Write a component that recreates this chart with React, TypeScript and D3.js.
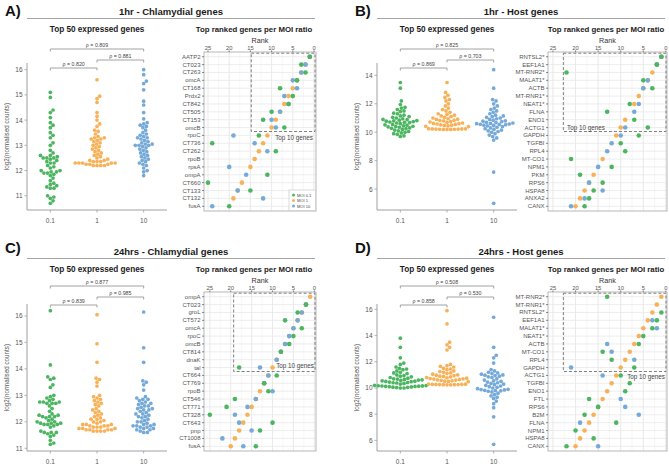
import React from 'react';
import * as d3 from 'd3';

const COLORS = ['#4bb560', '#f7b259', '#74a9d8'];
const MOI = ['0.1', '1', '10'];
const LEGEND_LABELS = ['MOI 0.1', 'MOI 1', 'MOI 10'];

// ---------- Panel A: 1hr Chlamydial ----------
const aExpr01 = [15.1, 14.9, 14.4, 14.3, 14.1, 13.9, 13.8, 13.7, 13.5, 13.4, 13.3, 13.1, 13.0, 12.8, 12.7, 12.6, 12.6, 12.55, 12.5, 12.5, 12.45, 12.4, 12.35, 12.3, 12.3, 12.2, 12.15, 12.1, 12.0, 12.0, 11.95, 11.95, 11.9, 11.9, 11.85, 11.8, 11.7, 11.6, 11.5, 11.45, 11.4, 11.35, 11.3, 11.3, 11.0, 10.95, 10.9, 10.8, 10.7, 12.5];
const aExpr1 = [15.6, 14.95, 14.85, 14.7, 14.3, 14.15, 14.0, 13.85, 13.75, 13.6, 13.55, 13.45, 13.35, 13.3, 13.3, 13.25, 13.25, 13.2, 13.15, 13.1, 13.05, 13.0, 12.95, 12.9, 12.85, 12.8, 12.75, 12.7, 12.65, 12.6, 12.55, 12.5, 12.45, 12.4, 12.4, 12.35, 12.35, 12.3, 12.3, 12.3, 12.3, 12.25, 12.25, 12.25, 12.2, 12.2, 12.2, 12.2, 12.35, 12.3];
const aExpr10 = [16.0, 15.8, 15.55, 15.45, 15.2, 14.75, 14.6, 14.3, 14.05, 13.9, 13.85, 13.8, 13.75, 13.7, 13.6, 13.5, 13.45, 13.4, 13.35, 13.3, 13.3, 13.25, 13.2, 13.15, 13.1, 13.05, 13.05, 13.0, 13.0, 12.95, 12.9, 12.85, 12.8, 12.75, 12.7, 12.65, 12.6, 12.55, 12.5, 12.45, 12.4, 12.35, 12.3, 12.25, 12.2, 12.1, 12.0, 11.95, 11.8, 13.0];
const aRho = ['ρ = 0.809', 'ρ = 0.881', 'ρ = 0.820'];
const aGenes = ['AATP2', 'CT023', 'CT263', 'omcA', 'CT168', 'Prdx2', 'CT842', 'CT505', 'CT153', 'omcB', 'rpoC', 'CT736', 'CT262', 'rpoB', 'rpsA', 'ompA', 'CT660', 'CT133', 'CT132', 'fusA'];
const aRank01 = [1, 3, 2, 4, 8, 5, 6, 10, 12, 7, 13, 24, 9, null, null, 11, 25, 15, null, 20];
const aRank1 = [1, 2, 3, 4, 5, 6, 7, 8, 9, 10, 11, 12, 13, 14, 15, null, 17, 18, 19, null];
const aRank10 = [1, 2, 3, 5, 4, 7, 6, 8, 10, 9, 19, 14, 11, null, 20, 16, null, 18, 12, 24];

// ---------- Panel B: 1hr Host ----------
const bExpr01 = [13.5, 13.1, 12.2, 11.95, 11.75, 11.7, 11.6, 11.5, 11.45, 11.35, 11.3, 11.2, 11.15, 11.1, 11.05, 11.0, 10.95, 10.9, 10.88, 10.85, 10.82, 10.8, 10.78, 10.75, 10.72, 10.7, 10.68, 10.65, 10.6, 10.55, 10.52, 10.5, 10.45, 10.42, 10.4, 10.38, 10.35, 10.3, 10.28, 10.25, 10.2, 10.15, 10.1, 10.05, 10.0, 9.95, 9.9, 9.85, 9.75, 9.7];
const bExpr1 = [13.5, 12.8, 12.6, 12.45, 12.3, 12.2, 12.0, 11.85, 11.7, 11.6, 11.5, 11.4, 11.3, 11.25, 11.2, 11.15, 11.1, 11.05, 11.0, 10.95, 10.92, 10.9, 10.85, 10.82, 10.8, 10.75, 10.72, 10.7, 10.65, 10.62, 10.6, 10.58, 10.55, 10.52, 10.5, 10.48, 10.45, 10.42, 10.4, 10.25, 10.24, 10.23, 10.23, 10.22, 10.22, 10.21, 10.21, 10.2, 10.2, 10.2];
const bExpr10 = [14.4, 13.1, 12.3, 12.2, 12.0, 11.85, 11.7, 11.6, 11.5, 11.4, 11.3, 11.2, 11.15, 11.1, 11.05, 11.0, 10.95, 10.9, 10.85, 10.8, 10.78, 10.75, 10.7, 10.68, 10.65, 10.62, 10.6, 10.58, 10.56, 10.55, 10.53, 10.5, 10.48, 10.45, 10.4, 10.35, 10.3, 10.25, 10.2, 10.1, 10.05, 10.0, 9.9, 9.8, 9.7, 9.6, 9.45, 10.15, 7.2, 5.0];
const bRho = ['ρ = 0.825', 'ρ = 0.703', 'ρ = 0.869'];
const bGenes = ['RNTSL2*', 'EEF1A1', 'MT-RNR2*', 'MALAT1*', 'ACTB', 'MT-RNR1*', 'NEAT1*', 'FLNA', 'ENO1', 'ACTG1', 'GAPDH', 'TGFBI', 'RPL4', 'MT-CO1', 'NPM1', 'PKM', 'RPS6', 'HSPA8', 'ANXA2', 'CANX'];
const bRank01 = [1, 2, 22, 5, 3, null, 8, 13, 7, 4, 6, 10, 9, 21, 12, 19, 14, 16, 17, 18];
const bRank1 = [1, 2, 3, 4, 5, 6, 7, null, 9, 10, 11, null, null, 14, null, 16, 17, 18, 19, 20];
const bRank10 = [1, 2, null, 4, 5, null, 6, 7, null, 9, 10, 12, 13, null, 15, null, 17, 14, 18, 21];

// ---------- Panel C: 24hrs Chlamydial ----------
const cExpr01 = [16.2, 14.15, 13.7, 13.65, 13.6, 13.4, 13.3, 13.0, 12.95, 12.9, 12.85, 12.8, 12.75, 12.75, 12.75, 12.7, 12.7, 12.7, 12.6, 12.5, 12.4, 12.3, 12.25, 12.25, 12.2, 12.2, 12.2, 12.15, 12.1, 12.05, 12.0, 12.0, 11.95, 11.95, 11.95, 11.9, 11.9, 11.9, 11.85, 11.8, 11.65, 11.6, 11.6, 11.6, 11.55, 11.5, 11.45, 11.3, 11.2, 11.15];
const cExpr1 = [16.05, 14.95, 14.25, 13.65, 13.6, 13.5, 13.35, 13.0, 12.95, 12.9, 12.85, 12.8, 12.75, 12.7, 12.65, 12.6, 12.5, 12.45, 12.4, 12.35, 12.3, 12.25, 12.2, 12.15, 12.1, 12.1, 12.05, 12.0, 12.0, 11.95, 11.9, 11.9, 11.9, 11.85, 11.85, 11.85, 11.8, 11.8, 11.8, 11.75, 11.75, 11.75, 11.7, 11.7, 11.7, 11.7, 11.65, 11.65, 11.65, 11.65];
const cExpr10 = [16.15, 14.8, 14.25, 13.55, 13.5, 13.4, 13.2, 12.95, 12.9, 12.85, 12.85, 12.8, 12.75, 12.7, 12.7, 12.65, 12.6, 12.6, 12.55, 12.5, 12.5, 12.45, 12.45, 12.4, 12.35, 12.3, 12.3, 12.25, 12.2, 12.2, 12.15, 12.1, 12.05, 12.0, 12.0, 11.95, 11.9, 11.9, 11.85, 11.85, 11.85, 11.8, 11.8, 11.75, 11.75, 11.7, 11.7, 11.65, 11.6, 11.6];
const cRho = ['ρ = 0.877', 'ρ = 0.985', 'ρ = 0.839'];
const cGenes = ['ompA', 'CT023', 'groL', 'CT572', 'omcA', 'rpoC', 'omcB', 'CT814', 'dnaK', 'tal', 'CT664', 'CT769', 'rpoB', 'CT546', 'CT771', 'CT328', 'CT643', 'pnp', 'CT1008', 'fusA'];
const cRank01 = [null, 2, 4, 7, 3, 5, 6, 8, null, 18, 9, 12, 11, 19, 21, 25, 10, 13, null, 14];
const cRank1 = [1, 2, 3, 4, 5, 6, 7, 8, 9, 10, 11, 12, 13, 14, 15, 16, 17, 18, 19, 20];
const cRank10 = [null, 2, 3, 4, 5, 6, 7, 8, 9, 13, 11, 12, 10, 14, 16, 19, 18, 15, 22, 17];

// ---------- Panel D: 24hrs Host ----------
const dExpr01 = [13.8, 13.1, 12.3, 11.9, 11.8, 11.6, 11.5, 11.45, 11.4, 11.3, 11.2, 11.15, 11.1, 11.0, 10.95, 10.9, 10.85, 10.8, 10.75, 10.7, 10.68, 10.65, 10.62, 10.6, 10.58, 10.55, 10.52, 10.5, 10.48, 10.45, 10.42, 10.4, 10.38, 10.35, 10.3, 10.2, 10.18, 10.17, 10.16, 10.15, 10.14, 10.13, 10.12, 10.1, 10.08, 10.06, 10.05, 10.03, 10.0, 10.0];
const dExpr1 = [15.9, 14.9, 13.5, 13.3, 13.1, 12.9, 11.8, 11.7, 11.65, 11.6, 11.5, 11.45, 11.4, 11.3, 11.25, 11.2, 11.15, 11.1, 11.05, 11.0, 10.98, 10.95, 10.9, 10.88, 10.85, 10.8, 10.78, 10.75, 10.72, 10.7, 10.68, 10.65, 10.62, 10.6, 10.58, 10.55, 10.52, 10.5, 10.48, 10.3, 10.29, 10.28, 10.28, 10.27, 10.26, 10.26, 10.25, 10.25, 10.24, 10.24];
const dExpr10 = [15.4, 13.1, 12.5, 12.3, 11.9, 11.4, 11.3, 11.2, 11.15, 11.1, 11.05, 11.0, 10.98, 10.95, 10.9, 10.85, 10.8, 10.7, 10.6, 10.55, 10.5, 10.45, 10.4, 10.3, 10.25, 10.2, 10.15, 10.1, 10.05, 10.0, 9.95, 9.9, 9.88, 9.85, 9.82, 9.8, 9.78, 9.75, 9.7, 9.6, 9.5, 9.4, 9.3, 9.2, 9.0, 8.8, 8.5, 7.8, 5.7, 10.35];
const dRho = ['ρ = 0.508', 'ρ = 0.530', 'ρ = 0.858'];
const dGenes = ['MT-RNR2*', 'MT-RNR1*', 'RNTSL2*', 'EEF1A1', 'MALAT1*', 'NEAT1*', 'ACTB', 'MT-CO1', 'RPL4', 'GAPDH', 'ACTG1', 'TGFBI', 'ENO1', 'FTL', 'RPS6', 'B2M', 'FLNA', 'NPM1', 'HSPA8', 'CANX'];
const dRank01 = [13, null, 1, 2, 3, 5, 6, 14, 12, 7, 10, 8, 9, 17, 15, 18, 11, 20, 16, 22];
const dRank1 = [1, 2, 3, 4, 5, 6, 7, 8, 9, 10, 11, 12, 13, 14, 15, 16, 17, 18, 19, 20];
const dRank10 = [null, null, null, 3, 2, null, 13, 12, 7, 21, 14, null, null, 10, 9, 6, 19, null, null, 15];

const yTicksA = [11, 12, 13, 14, 15, 16];
const yTicksB = [6, 8, 10, 12, 14];
const yTicksC = [11, 12, 13, 14, 15, 16];
const yTicksD = [6, 8, 10, 12, 14, 16];
const rankTicks = [25, 20, 15, 10, 5, 0];
const rankMinor = [22.5, 17.5, 12.5, 7.5, 2.5];

const FONT = 'Liberation Sans, Arial, Helvetica, sans-serif';

function swarm(values: number[], y: (v: number) => number, cx: number, d: number) {
  const pts = values.map((v) => ({ y: y(v), x: cx })).sort((p, q) => q.y - p.y);
  const placed: { x: number; y: number }[] = [];
  for (const p of pts) {
    const cands = [0];
    for (const q of placed) {
      const dy = Math.abs(q.y - p.y);
      if (dy < d) {
        const dx = Math.sqrt(d * d - dy * dy);
        cands.push(q.x - cx + dx, q.x - cx - dx);
      }
    }
    cands.sort((a, b) => Math.abs(a) - Math.abs(b));
    let best = 0;
    for (const c of cands) {
      const ok = placed.every((q) => (q.x - (cx + c)) ** 2 + (q.y - p.y) ** 2 >= d * d - 0.01);
      if (ok) { best = c; break; }
    }
    placed.push({ x: cx + best, y: p.y });
  }
  return placed;
}

type PanelProps = {
  ox: number; oy: number; letter: string; title: string;
  expr: number[][]; rho: string[]; yTicks: number[];
  genes: string[]; ranks: (number | null)[][];
  rankLeft: number; rankRight: number; rankDomain: [number, number];
  boxLeft: number; top10: { x: number; y: number; anchor: string };
  rankTitleX: number;
  legend?: boolean;
};

function Panel(p: PanelProps) {
  const { ox, oy } = p;
  // beeswarm
  const bx0 = 27 + ox, bx1 = 167 + ox;
  const by0 = 63 + (oy ? oy + 1 : 0), by1 = 210 + (oy ? oy + 1 : 0);
  const all = p.expr.flat();
  const ext = d3.extent(all) as [number, number];
  const pad = (ext[1] - ext[0]) * 0.05;
  const y = d3.scaleLinear().domain([ext[0] - pad, ext[1] + pad]).range([by1, by0]);
  const x = d3.scalePoint<string>().domain(MOI).range([bx0, bx1]).padding(0.5);
  const swarms = p.expr.map((vals, i) => swarm(vals, y, x(MOI[i]) as number, 3.7));
  const bOff = oy ? oy - 3 : 0;
  const brackets = [
    { a: 0, b: 2, ly: 49 + bOff, label: p.rho[0] },
    { a: 1, b: 2, ly: 60 + bOff, label: p.rho[1] },
    { a: 0, b: 1, ly: 68 + bOff, label: p.rho[2] },
  ];
  // rank plot
  const rt = 52 + oy, rb = 211 + oy;
  const rx = d3.scaleLinear().domain(p.rankDomain).range([p.rankLeft, p.rankRight]);
  const ry = d3.scalePoint<string>().domain(p.genes).range([rt, rb]).padding(0.6);
  const step = ry.step();
  const boxBottom = (ry(p.genes[9]) as number) + step / 2;
  const drawOrder = [1, 2, 0];
  const letterOy = oy ? oy - 3 : 0;
  const titleCx = (27 + 315) / 2 + ox;
  return (
    <g fontFamily={FONT}>
      <text x={5 + ox} y={15.5 + letterOy} fontSize={15} fontWeight="bold" fill="#111">{p.letter}</text>
      <text x={titleCx} y={14.5 + oy} fontSize={9.5} fontWeight="bold" textAnchor="middle" fill="#1a1a1a">{p.title}</text>
      <line x1={27 + ox} x2={315 + ox} y1={18.5 + oy} y2={18.5 + oy} stroke="#a6a6a6" strokeWidth={1} />
      <text x={(bx0 + bx1) / 2} y={32 + oy} fontSize={8.2} fontWeight="bold" textAnchor="middle" fill="#1a1a1a">Top 50 expressed genes</text>
      <text x={p.rankTitleX} y={32 + oy} fontSize={7.8} fontWeight="bold" textAnchor="middle" fill="#1a1a1a">Top ranked genes per MOI ratio</text>

      {/* beeswarm axes */}
      <line x1={bx0} x2={bx0} y1={by0} y2={by1} stroke="#a0a0a0" strokeWidth={1} />
      <line x1={bx0} x2={bx1} y1={by1} y2={by1} stroke="#a0a0a0" strokeWidth={1} />
      {p.yTicks.map((t) => (
        <g key={t}>
          <line x1={bx0 - 2.5} x2={bx0} y1={y(t)} y2={y(t)} stroke="#a0a0a0" strokeWidth={0.8} />
          <text x={bx0 - 4.5} y={y(t)} fontSize={6.5} textAnchor="end" dominantBaseline="central" fill="#555">{t}</text>
        </g>
      ))}
      {MOI.map((m) => (
        <g key={m}>
          <line x1={x(m)} x2={x(m)} y1={by1} y2={by1 + 2.5} stroke="#a0a0a0" strokeWidth={0.8} />
          <text x={x(m)} y={by1 + 12.5} fontSize={6.5} textAnchor="middle" fill="#555">{m}</text>
        </g>
      ))}
      <text transform={`translate(${bx0 - 21},${(by0 + by1) / 2}) rotate(-90)`} fontSize={6.3} textAnchor="middle" dominantBaseline="central" fill="#555">log2(normalised counts)</text>
      {swarms.map((pts, i) => pts.map((pt, j) => (
        <circle key={`${i}-${j}`} cx={pt.x} cy={pt.y} r={1.85} fill={COLORS[i]} />
      )))}
      {brackets.map((b, i) => {
        const xa = x(MOI[b.a]) as number, xb = x(MOI[b.b]) as number;
        return (
          <g key={i}>
            <path d={`M${xa},${b.ly + 2.5}V${b.ly}H${xb}V${b.ly + 2.5}`} fill="none" stroke="#8c8c8c" strokeWidth={0.8} />
            <text x={(xa + xb) / 2} y={b.ly - 2.3} fontSize={5.3} textAnchor="middle" fill="#444">{b.label}</text>
          </g>
        );
      })}

      {/* rank plot */}
      {rankMinor.map((t) => (
        <line key={`mn${t}`} x1={rx(t)} x2={rx(t)} y1={rt} y2={rb} stroke="#f1f1f1" strokeWidth={0.6} />
      ))}
      {rankTicks.map((t) => (
        <line key={`mj${t}`} x1={rx(t)} x2={rx(t)} y1={rt} y2={rb} stroke="#e3e3e3" strokeWidth={0.8} />
      ))}
      {p.genes.map((g) => (
        <line key={`h${g}`} x1={p.rankLeft} x2={p.rankRight} y1={ry(g)} y2={ry(g)} stroke="#e8e8e8" strokeWidth={0.8} />
      ))}
      <rect x={p.rankLeft} y={rt} width={p.rankRight - p.rankLeft} height={rb - rt} fill="none" stroke="#b0b0b0" strokeWidth={0.9} />
      <text x={(p.rankLeft + p.rankRight) / 2} y={42.5 + oy} fontSize={7.2} textAnchor="middle" fill="#333">Rank</text>
      {rankTicks.map((t) => (
        <g key={`rt${t}`}>
          <line x1={rx(t)} x2={rx(t)} y1={rt - 1.6} y2={rt} stroke="#555" strokeWidth={0.7} />
          <text x={rx(t)} y={rt - 2} fontSize={5.8} textAnchor="middle" fill="#555">{t}</text>
        </g>
      ))}
      {p.genes.map((g) => (
        <g key={`gl${g}`}>
          <line x1={p.rankLeft - 2} x2={p.rankLeft} y1={ry(g)} y2={ry(g)} stroke="#555" strokeWidth={0.7} />
          <text x={p.rankLeft - 3.5} y={ry(g)} fontSize={6} textAnchor="end" dominantBaseline="central" fill="#555">{g}</text>
        </g>
      ))}
      <rect x={rx(p.boxLeft)} y={rt + 1.2} width={p.rankRight - 1 - rx(p.boxLeft)} height={boxBottom - rt - 1.2} fill="none" stroke="#707070" strokeWidth={0.9} strokeDasharray="3,2" />
      <text x={p.top10.x} y={p.top10.y} fontSize={6.3} textAnchor={p.top10.anchor} fill="#444">Top 10 genes</text>
      {drawOrder.map((s) => p.genes.map((g, gi) => {
        const r = p.ranks[s][gi];
        if (r == null) return null;
        return <circle key={`d${s}-${gi}`} cx={rx(r)} cy={ry(g)} r={2.3} fill={COLORS[s]} />;
      }))}
      {p.legend && (
        <g>
          <rect x={289} y={190} width={26.5} height={20.5} fill="#fff" stroke="#c8c8c8" strokeWidth={0.7} />
          {LEGEND_LABELS.map((l, i) => (
            <g key={l}>
              <circle cx={293.5} cy={195 + i * 5.5} r={1.5} fill={COLORS[i]} />
              <text x={297} y={195 + i * 5.5} fontSize={4} dominantBaseline="central" fill="#444">{l}</text>
            </g>
          ))}
        </g>
      )}
    </g>
  );
}

export default function App() {
  return (
    <svg width={669} height={464} style={{ position: 'absolute', left: 0, top: 0, background: '#fff' }}>
      <rect x={0} y={0} width={669} height={464} fill="#fff" />
      <Panel ox={0} oy={0} letter="A)" title="1hr - Chlamydial genes"
        expr={[aExpr01, aExpr1, aExpr10]} rho={aRho} yTicks={yTicksA}
        genes={aGenes} ranks={[aRank01, aRank1, aRank10]}
        rankLeft={204} rankRight={316} rankDomain={[25.94, -0.47]} boxLeft={14.8}
        top10={{ x: 313, y: 139.5, anchor: 'end' }} rankTitleX={254} legend />
      <Panel ox={350} oy={0} letter="B)" title="1hr - Host genes"
        expr={[bExpr01, bExpr1, bExpr10]} rho={bRho} yTicks={yTicksB}
        genes={bGenes} ranks={[bRank01, bRank1, bRank10]}
        rankLeft={548} rankRight={667} rankDomain={[26.1, -0.25]} boxLeft={22.7}
        top10={{ x: 567, y: 129.5, anchor: 'start' }} rankTitleX={606} />
      <Panel ox={0} oy={240} letter="C)" title="24hrs - Chlamydial genes"
        expr={[cExpr01, cExpr1, cExpr10]} rho={cRho} yTicks={yTicksC}
        genes={cGenes} ranks={[cRank01, cRank1, cRank10]}
        rankLeft={204} rankRight={316} rankDomain={[26.4, -0.4]} boxLeft={19.3}
        top10={{ x: 314, y: 367.5, anchor: 'end' }} rankTitleX={254} />
      <Panel ox={350} oy={240} letter="D)" title="24hrs - Host genes"
        expr={[dExpr01, dExpr1, dExpr10]} rho={dRho} yTicks={yTicksD}
        genes={dGenes} ranks={[dRank01, dRank1, dRank10]}
        rankLeft={548} rankRight={667} rankDomain={[26.1, -0.25]} boxLeft={22.7}
        top10={{ x: 665, y: 378.5, anchor: 'end' }} rankTitleX={606} />
    </svg>
  );
}
